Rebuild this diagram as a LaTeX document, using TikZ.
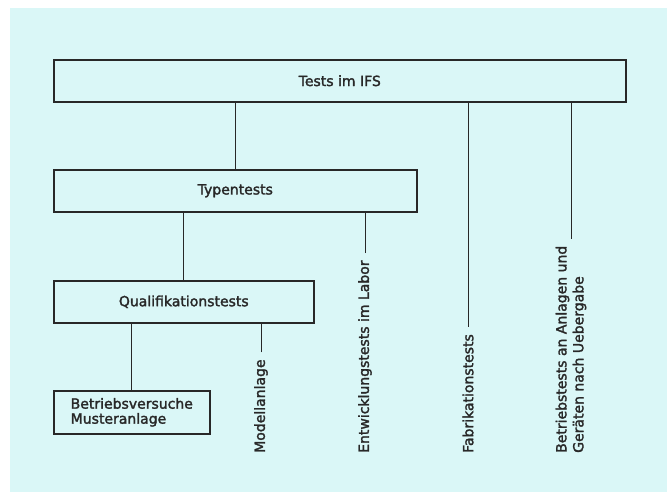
\documentclass[tikz,border=0pt]{standalone}
\usepackage{fontspec}
\setmainfont{DejaVu Sans}[RawFeature={embolden=2}]
\definecolor{bgc}{RGB}{218,247,247}
\definecolor{ink}{RGB}{40,40,40}
\begin{document}
\begin{tikzpicture}[x=1pt,y=-1pt,
  box/.style={draw=ink, line width=1.6pt, minimum height=42pt, anchor=north west,
    inner sep=0pt, font=\fontsize{14}{15}\selectfont, text=ink},
  conn/.style={draw=ink, line width=1pt},
  vlabel/.style={rotate=90, anchor=west, inner xsep=7pt, inner ysep=0pt,
    font=\fontsize{14}{17}\selectfont, text=ink, align=left}]
\useasboundingbox (0,0) rectangle (667,495);
\fill[bgc] (10,8) rectangle (667,492);
\node[box, minimum width=572pt] (tests) at (53,59) {Tests im IFS};
\node[box, minimum width=363pt] (typ) at (53,169) {Typentests};
\node[box, minimum width=260pt] (qual) at (53,280) {Qualifikationstests};
\node[box, minimum width=156pt, minimum height=43pt, align=left] (bv) at (53,390) {Betriebsversuche\\Musteranlage};
\node[vlabel] (mod) at (261,460) {Modellanlage};
\node[vlabel] (ent) at (365,460) {Entwicklungstests im Labor};
\node[vlabel] (fab) at (468,460) {Fabrikationstests};
\node[vlabel] (bt) at (571,460) {Betriebstests an Anlagen und\\Geräten nach Uebergabe};
\draw[conn] (typ.north) -- (typ.north |- tests.south);
\draw[conn] (qual.north) -- (qual.north |- typ.south);
\draw[conn] (bv.north) -- (bv.north |- qual.south);
\draw[conn] (mod.east) -- (mod.east |- qual.south);
\draw[conn] (ent.east) -- (ent.east |- typ.south);
\draw[conn] (fab.east) -- (fab.east |- tests.south);
\draw[conn] (bt.east) -- (bt.east |- tests.south);
\end{tikzpicture}
\end{document}
